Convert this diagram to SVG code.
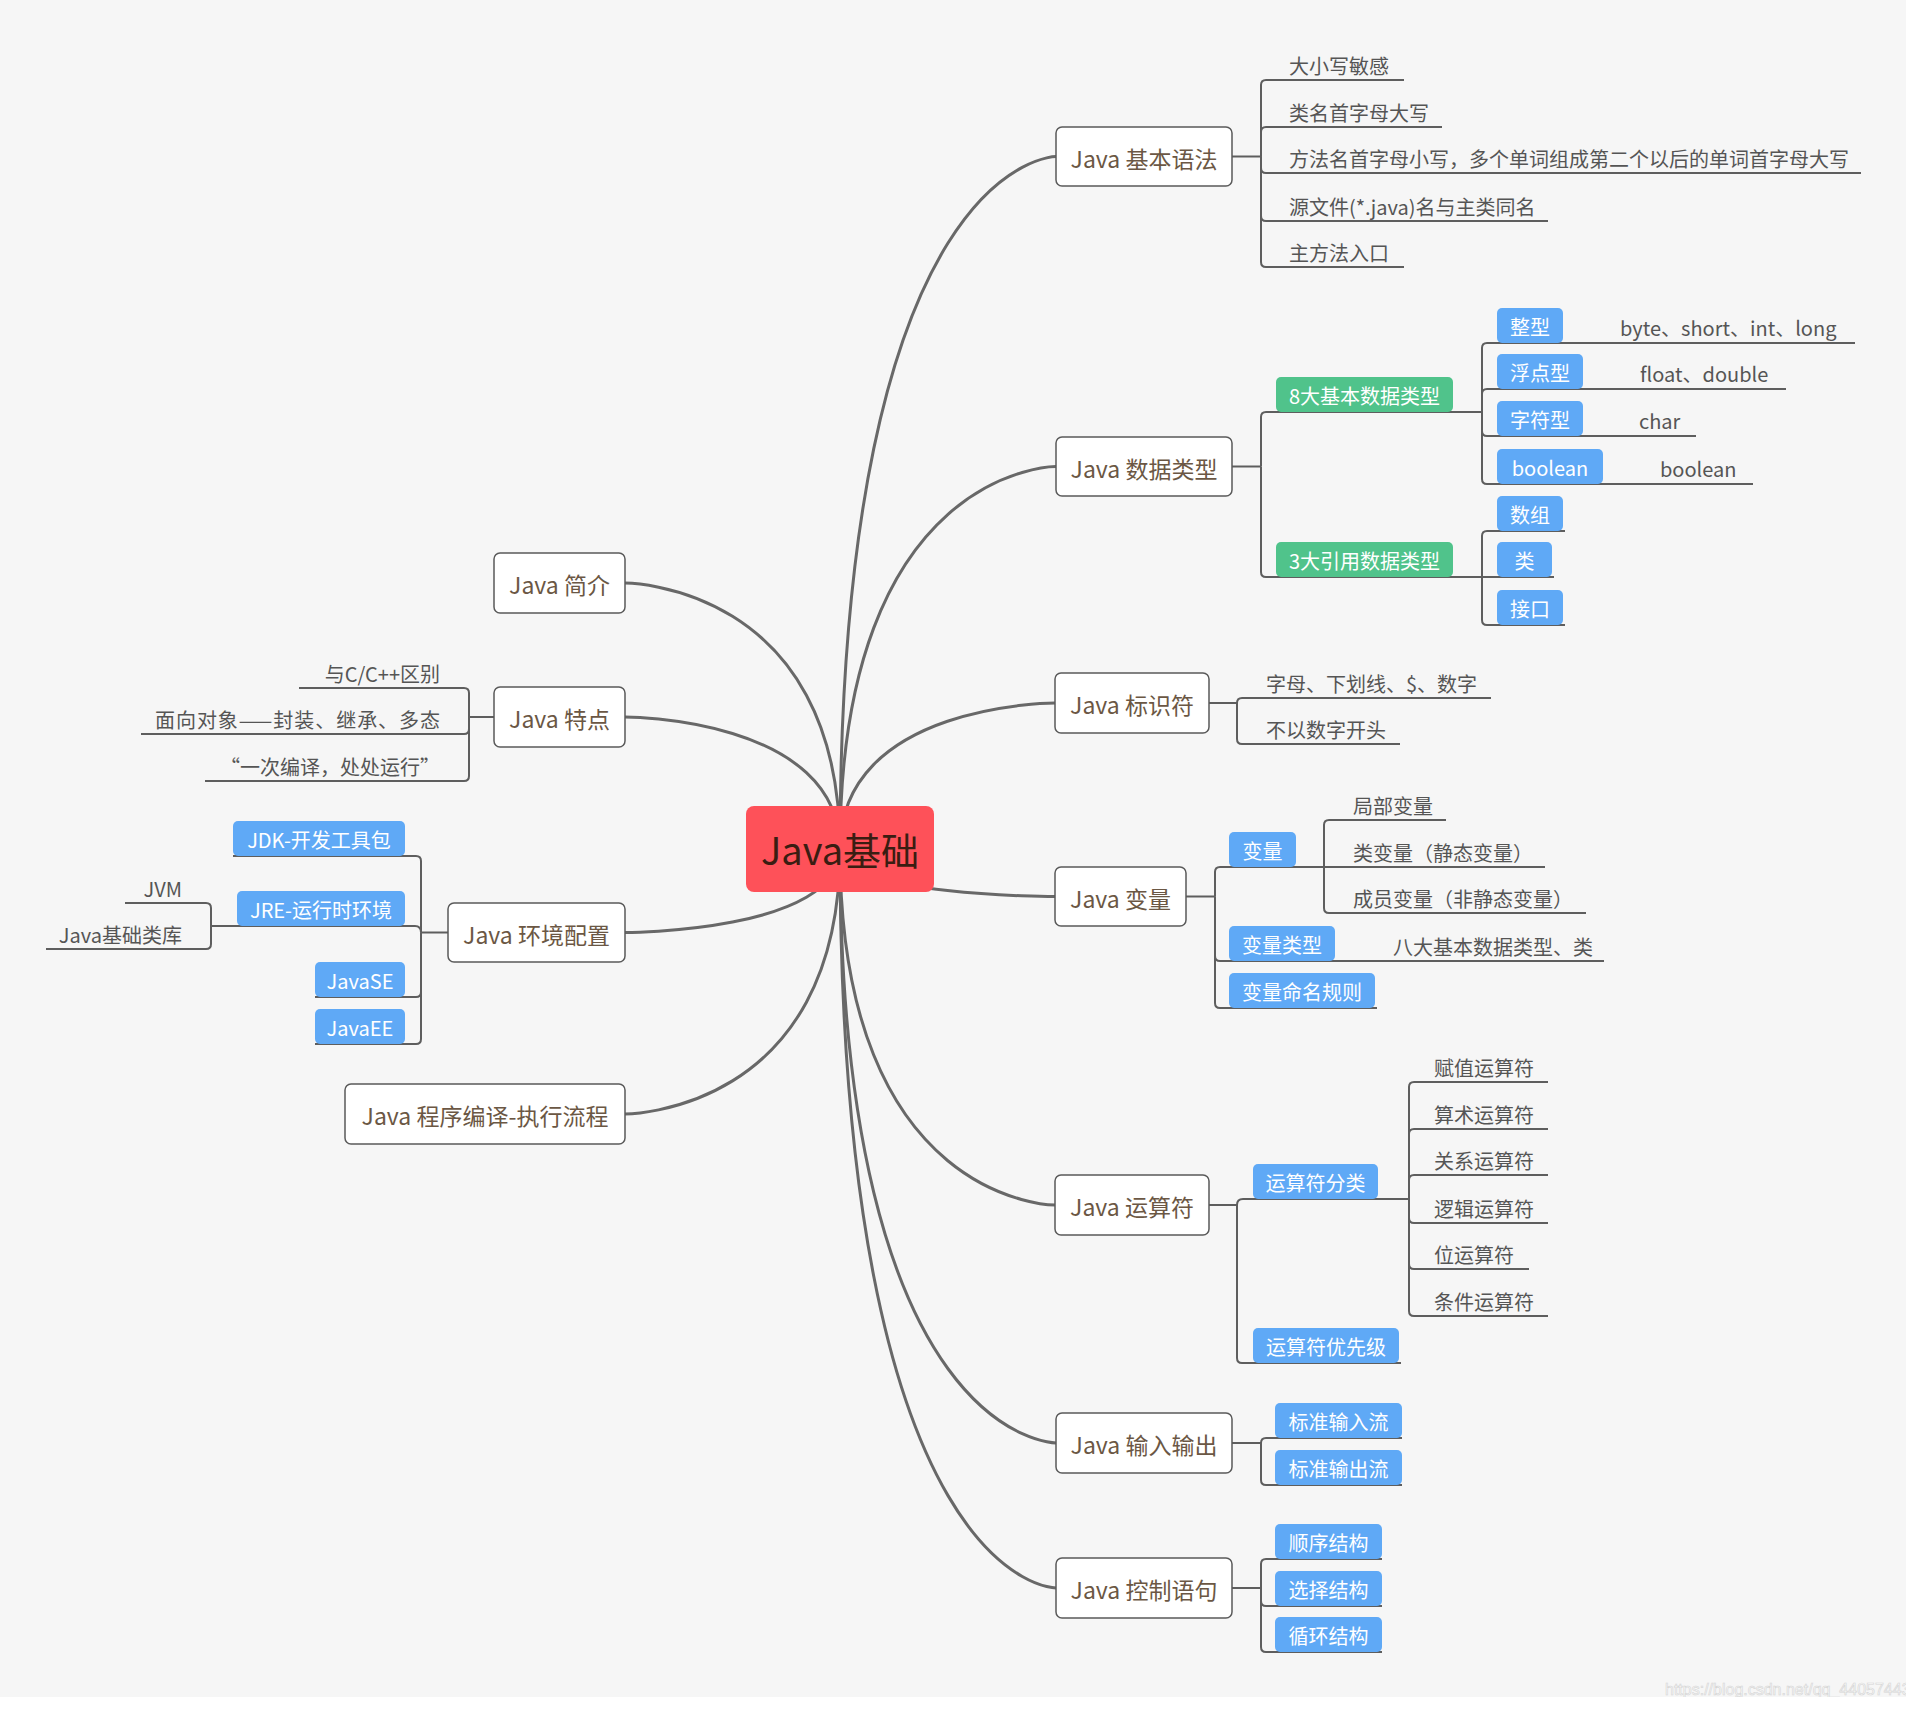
<svg xmlns="http://www.w3.org/2000/svg" width="1918" height="1709" viewBox="0 0 1918 1709">
<defs>
<style>
.bg{fill:#f6f6f6}
.curve{fill:none;stroke:#686868;stroke-width:3}
.br{fill:none;stroke:#5e5e5e;stroke-width:2}
.node rect{fill:#ffffff;stroke:#5a5a5a;stroke-width:1.5}
.node text{font-family:"Noto Sans CJK SC","Noto Sans",sans-serif;font-size:23px;fill:#6b5744;text-anchor:middle}
.item{font-family:"Noto Sans CJK SC","Noto Sans",sans-serif;font-size:20px;fill:#555555}
.end{text-anchor:end}
.blue rect{fill:#5fa9f6}
.green rect{fill:#50c38b}
.blue text,.green text{font-family:"Noto Sans CJK SC","Noto Sans",sans-serif;font-size:20px;fill:#ffffff;text-anchor:middle}
.wm{font-family:"Liberation Sans",Arial,sans-serif;font-size:16px;fill:#fbfbfb;stroke:#d4d4d4;stroke-width:0.6}
</style>
<clipPath id="bgclip"><rect x="0" y="0" width="1906" height="1697"/></clipPath>
</defs>
<rect x="0" y="0" width="1918" height="1709" fill="#ffffff"/>
<rect class="bg" x="0" y="0" width="1906" height="1697"/>

<g id="connectors">
<g id="main-curves">
<path class="curve" d="M840 849 C840 156.5 1056 156.5 1056 156.5"/>
<path class="curve" d="M840 849 C840 466.5 1056 466.5 1056 466.5"/>
<path class="curve" d="M840 849 C840 703 1055 703 1055 703"/>
<path class="curve" d="M840 849 C840 896.5 1055 896.5 1055 896.5"/>
<path class="curve" d="M840 849 C840 1205 1055 1205 1055 1205"/>
<path class="curve" d="M840 849 C840 1443 1056 1443 1056 1443"/>
<path class="curve" d="M840 849 C840 1588 1056 1588 1056 1588"/>
<path class="curve" d="M840 849 C840 583 625 583 625 583"/>
<path class="curve" d="M840 849 C840 717 625 717 625 717"/>
<path class="curve" d="M840 849 C840 932.5 625 932.5 625 932.5"/>
<path class="curve" d="M840 849 C840 1114 625 1114 625 1114"/>
</g>
<g id="brackets">
<path class="br" d="M1232 156.5 H1261"/>
<path class="br" d="M1261 156.5 V85 Q1261 80 1266 80 H1404"/>
<path class="br" d="M1261 156.5 V132 Q1261 127 1266 127 H1442"/>
<path class="br" d="M1261 156.5 V168 Q1261 173 1266 173 H1861"/>
<path class="br" d="M1261 156.5 V216 Q1261 221 1266 221 H1548"/>
<path class="br" d="M1261 156.5 V262 Q1261 267 1266 267 H1404"/>
<path class="br" d="M1232 466.5 H1261"/>
<path class="br" d="M1261 466.5 V417 Q1261 412 1266 412 H1482"/>
<path class="br" d="M1261 466.5 V572 Q1261 577 1266 577 H1482"/>
<path class="br" d="M1482 412 V348 Q1482 343 1487 343 H1855"/>
<path class="br" d="M1482 412 V394 Q1482 389 1487 389 H1786"/>
<path class="br" d="M1482 412 V431 Q1482 436 1487 436 H1696"/>
<path class="br" d="M1482 412 V479 Q1482 484 1487 484 H1753"/>
<path class="br" d="M1482 577 V536 Q1482 531 1487 531 H1565"/>
<path class="br" d="M1482 577 H1554"/>
<path class="br" d="M1482 577 V620 Q1482 625 1487 625 H1565"/>
<path class="br" d="M1209 703 H1237"/>
<path class="br" d="M1237 703 Q1237 698 1242 698 H1491"/>
<path class="br" d="M1237 703 V739 Q1237 744 1242 744 H1400"/>
<path class="br" d="M1186 896.5 H1215"/>
<path class="br" d="M1215 896.5 V872 Q1215 867 1220 867 H1324"/>
<path class="br" d="M1215 896.5 V956 Q1215 961 1220 961 H1604"/>
<path class="br" d="M1215 896.5 V1003 Q1215 1008 1220 1008 H1377"/>
<path class="br" d="M1324 867 V825 Q1324 820 1329 820 H1446"/>
<path class="br" d="M1324 867 H1545"/>
<path class="br" d="M1324 867 V908 Q1324 913 1329 913 H1586"/>
<path class="br" d="M1209 1205 H1237"/>
<path class="br" d="M1237 1205 Q1237 1199 1243 1199 H1409"/>
<path class="br" d="M1237 1205 V1358 Q1237 1363 1242 1363 H1401"/>
<path class="br" d="M1409 1199 V1087 Q1409 1082 1414 1082 H1548"/>
<path class="br" d="M1409 1199 V1134 Q1409 1129 1414 1129 H1548"/>
<path class="br" d="M1409 1199 V1180 Q1409 1175 1414 1175 H1548"/>
<path class="br" d="M1409 1199 V1218 Q1409 1223 1414 1223 H1548"/>
<path class="br" d="M1409 1199 V1264 Q1409 1269 1414 1269 H1529"/>
<path class="br" d="M1409 1199 V1311 Q1409 1316 1414 1316 H1548"/>
<path class="br" d="M1232 1443 H1261"/>
<path class="br" d="M1261 1443 Q1261 1438 1266 1438 H1402"/>
<path class="br" d="M1261 1443 V1480 Q1261 1485 1266 1485 H1402"/>
<path class="br" d="M1232 1588 H1261"/>
<path class="br" d="M1261 1588 V1564 Q1261 1559 1266 1559 H1382"/>
<path class="br" d="M1261 1588 V1601 Q1261 1606 1266 1606 H1382"/>
<path class="br" d="M1261 1588 V1647 Q1261 1652 1266 1652 H1382"/>
<path class="br" d="M494 717 H469"/>
<path class="br" d="M469 717 V693 Q469 688 464 688 H299"/>
<path class="br" d="M469 717 V729 Q469 734 464 734 H141"/>
<path class="br" d="M469 717 V776 Q469 781 464 781 H205"/>
<path class="br" d="M448 932.5 H421"/>
<path class="br" d="M421 932.5 V861 Q421 856 416 856 H233"/>
<path class="br" d="M421 932.5 Q421 926 415 926 H211"/>
<path class="br" d="M421 932.5 V992 Q421 997 416 997 H315"/>
<path class="br" d="M421 932.5 V1039 Q421 1044 416 1044 H315"/>
<path class="br" d="M211 926 V908 Q211 903 206 903 H125"/>
<path class="br" d="M211 926 V944 Q211 949 206 949 H46"/>
</g>
</g>

<g id="root">
<rect x="746" y="806" width="188" height="86" rx="8" fill="#fe5159"/>
<text x="840" y="865" font-family="Noto Sans CJK SC, Noto Sans, sans-serif" font-size="38" fill="#3a1d12" text-anchor="middle">Java基础</text>
</g>

<g id="n-syntax" class="node"><rect x="1056" y="127" width="176" height="59" rx="6"/><text x="1144" y="167.5">Java 基本语法</text></g>
<g id="n-types" class="node"><rect x="1056" y="437" width="176" height="59" rx="6"/><text x="1144" y="477.5">Java 数据类型</text></g>
<g id="n-ident" class="node"><rect x="1055" y="673" width="154" height="60" rx="6"/><text x="1132" y="714">Java 标识符</text></g>
<g id="n-var" class="node"><rect x="1055" y="867" width="131" height="59" rx="6"/><text x="1120.5" y="907.5">Java 变量</text></g>
<g id="n-op" class="node"><rect x="1055" y="1175" width="154" height="60" rx="6"/><text x="1132" y="1216">Java 运算符</text></g>
<g id="n-io" class="node"><rect x="1056" y="1413" width="176" height="60" rx="6"/><text x="1144" y="1454">Java 输入输出</text></g>
<g id="n-ctrl" class="node"><rect x="1056" y="1558" width="176" height="60" rx="6"/><text x="1144" y="1599">Java 控制语句</text></g>
<g id="n-intro" class="node"><rect x="494" y="553" width="131" height="60" rx="6"/><text x="559.5" y="594">Java 简介</text></g>
<g id="n-feat" class="node"><rect x="494" y="687" width="131" height="60" rx="6"/><text x="559.5" y="728">Java 特点</text></g>
<g id="n-env" class="node"><rect x="448" y="903" width="177" height="59" rx="6"/><text x="536.5" y="943.5">Java 环境配置</text></g>
<g id="n-flow" class="node"><rect x="345" y="1084" width="280" height="60" rx="6"/><text x="485" y="1125">Java 程序编译-执行流程</text></g>

<g id="syntax-items">
<text class="item" x="1289" y="73.5">大小写敏感</text>
<text class="item" x="1289" y="120.5">类名首字母大写</text>
<text class="item" x="1289" y="166.5">方法名首字母小写，多个单词组成第二个以后的单词首字母大写</text>
<text class="item" x="1289" y="214.5">源文件(*.java)名与主类同名</text>
<text class="item" x="1289" y="260.5">主方法入口</text>
</g>

<g id="types-items">
<g id="t-basic" class="green"><rect x="1276" y="377" width="177" height="35" rx="5"/><text x="1364.5" y="403.5">8大基本数据类型</text></g>
<g id="t-ref" class="green"><rect x="1276" y="542" width="177" height="35" rx="5"/><text x="1364.5" y="568.5">3大引用数据类型</text></g>
<g id="t-int" class="blue"><rect x="1497" y="308" width="66" height="35" rx="5"/><text x="1530" y="334.5">整型</text></g>
<text class="item" x="1620" y="336">byte、short、int、long</text>
<g id="t-float" class="blue"><rect x="1497" y="354" width="86" height="35" rx="5"/><text x="1540" y="380.5">浮点型</text></g>
<text class="item" x="1640" y="382">float、double</text>
<g id="t-char" class="blue"><rect x="1497" y="401" width="86" height="35" rx="5"/><text x="1540" y="427.5">字符型</text></g>
<text class="item" x="1639" y="429">char</text>
<g id="t-bool" class="blue"><rect x="1497" y="449" width="106" height="35" rx="5"/><text x="1550" y="475.5">boolean</text></g>
<text class="item" x="1660" y="477">boolean</text>
<g id="t-array" class="blue"><rect x="1497" y="496" width="66" height="35" rx="5"/><text x="1530" y="522.5">数组</text></g>
<g id="t-class" class="blue"><rect x="1497" y="542" width="55" height="35" rx="5"/><text x="1524.5" y="568.5">类</text></g>
<g id="t-iface" class="blue"><rect x="1497" y="590" width="66" height="35" rx="5"/><text x="1530" y="616.5">接口</text></g>
</g>

<g id="ident-items">
<text class="item" x="1266" y="691.5">字母、下划线、$、数字</text>
<text class="item" x="1266" y="737.5">不以数字开头</text>
</g>

<g id="var-items">
<g id="v-var" class="blue"><rect x="1229" y="832" width="67" height="35" rx="5"/><text x="1262.5" y="858.5">变量</text></g>
<text class="item" x="1353" y="813.5">局部变量</text>
<text class="item" x="1353" y="860.5">类变量（静态变量）</text>
<text class="item" x="1353" y="906.5">成员变量（非静态变量）</text>
<g id="v-type" class="blue"><rect x="1229" y="926" width="106" height="35" rx="5"/><text x="1282" y="952.5">变量类型</text></g>
<text class="item" x="1393" y="954.5">八大基本数据类型、类</text>
<g id="v-name" class="blue"><rect x="1229" y="973" width="146" height="35" rx="5"/><text x="1302" y="999.5">变量命名规则</text></g>
</g>

<g id="op-items">
<g id="o-cat" class="blue"><rect x="1253" y="1164" width="125" height="35" rx="5"/><text x="1315.5" y="1190.5">运算符分类</text></g>
<g id="o-pri" class="blue"><rect x="1253" y="1328" width="146" height="35" rx="5"/><text x="1326" y="1354.5">运算符优先级</text></g>
<text class="item" x="1434" y="1075.5">赋值运算符</text>
<text class="item" x="1434" y="1122.5">算术运算符</text>
<text class="item" x="1434" y="1168.5">关系运算符</text>
<text class="item" x="1434" y="1216.5">逻辑运算符</text>
<text class="item" x="1434" y="1262.5">位运算符</text>
<text class="item" x="1434" y="1309.5">条件运算符</text>
</g>

<g id="io-items">
<g id="io-in" class="blue"><rect x="1275" y="1403" width="127" height="35" rx="5"/><text x="1338.5" y="1429.5">标准输入流</text></g>
<g id="io-out" class="blue"><rect x="1275" y="1450" width="127" height="35" rx="5"/><text x="1338.5" y="1476.5">标准输出流</text></g>
</g>

<g id="ctrl-items">
<g id="c-seq" class="blue"><rect x="1275" y="1524" width="107" height="35" rx="5"/><text x="1328.5" y="1550.5">顺序结构</text></g>
<g id="c-sel" class="blue"><rect x="1275" y="1571" width="107" height="35" rx="5"/><text x="1328.5" y="1597.5">选择结构</text></g>
<g id="c-loop" class="blue"><rect x="1275" y="1617" width="107" height="35" rx="5"/><text x="1328.5" y="1643.5">循环结构</text></g>
</g>

<g id="feat-items">
<text class="item end" x="440" y="681.5">与C/C++区别</text>
<text class="item end" x="440" y="727.5" textLength="285" lengthAdjust="spacing">面向对象——封装、继承、多态</text>
<text class="item end" x="440" y="774.5">“一次编译，处处运行”</text>
</g>

<g id="env-items">
<g id="e-jdk" class="blue"><rect x="233" y="821" width="172" height="35" rx="5"/><text x="319" y="847.5">JDK-开发工具包</text></g>
<g id="e-jre" class="blue"><rect x="237" y="891" width="168" height="35" rx="5"/><text x="321" y="917.5">JRE-运行时环境</text></g>
<g id="e-se" class="blue"><rect x="315" y="962" width="90" height="35" rx="5"/><text x="360" y="988.5">JavaSE</text></g>
<g id="e-ee" class="blue"><rect x="315" y="1009" width="90" height="35" rx="5"/><text x="360" y="1035.5">JavaEE</text></g>
<text class="item end" x="182" y="896.5">JVM</text>
<text class="item end" x="182" y="942.5">Java基础类库</text>
</g>

<g clip-path="url(#bgclip)"><text class="wm" x="1665" y="1695">https://blog.csdn.net/qq_44057443</text></g>
</svg>
